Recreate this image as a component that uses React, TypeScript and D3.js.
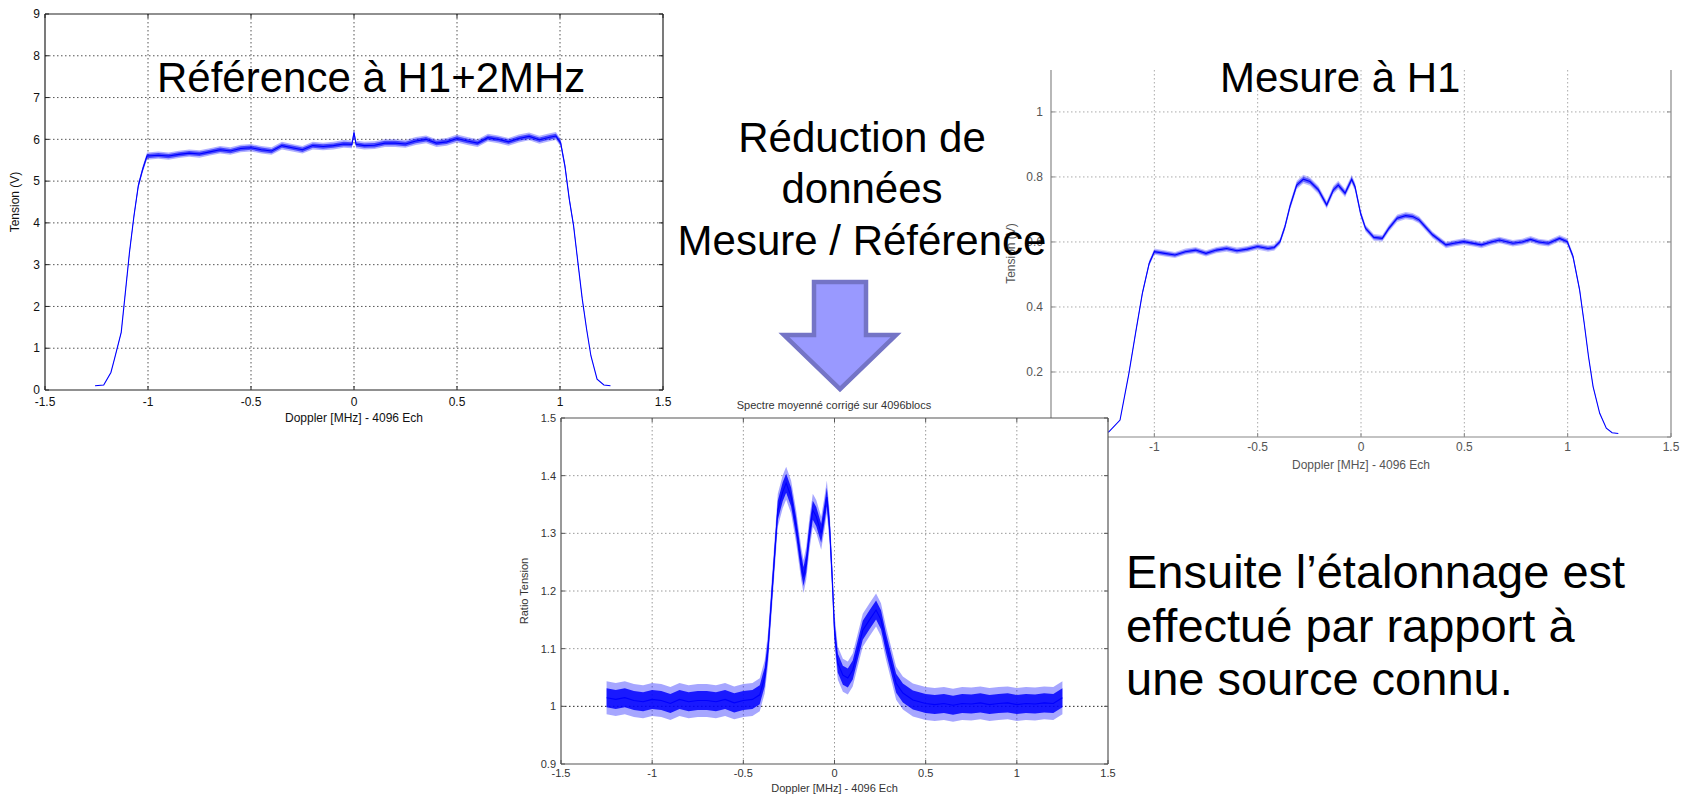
import * as d3 from 'd3';

const W = 1690;
const H = 795;
const FONT = '"Liberation Sans", Arial, sans-serif';

// ---- tick values ----
const dopplerTicks = [-1.5, -1, -0.5, 0, 0.5, 1, 1.5];
const refTicksY = [0, 1, 2, 3, 4, 5, 6, 7, 8, 9];
const mesTicksY = [0, 0.2, 0.4, 0.6, 0.8, 1];
const ratioTicksY = [0.9, 1, 1.1, 1.2, 1.3, 1.4, 1.5];

// ---- Référence à H1+2MHz ----
const refX = [
  -1.257, -1.215, -1.18, -1.163, -1.13, -1.11, -1.09, -1.068, -1.047, -1.026, -1.005,
  -0.95, -0.9, -0.85, -0.8, -0.75, -0.7, -0.65, -0.6, -0.55, -0.5, -0.45, -0.4, -0.35,
  -0.3, -0.25, -0.2, -0.15, -0.1, -0.05, -0.01, 0, 0.01, 0.05, 0.1, 0.15, 0.2, 0.25,
  0.3, 0.35, 0.4, 0.45, 0.5, 0.55, 0.6, 0.65, 0.7, 0.75, 0.8, 0.85, 0.9, 0.95, 0.98,
  1.003, 1.024, 1.045, 1.066, 1.087, 1.108, 1.129, 1.15, 1.18, 1.213, 1.245,
];
const refY = [
  0.1, 0.12, 0.42, 0.74, 1.38, 2.33, 3.29, 4.17, 4.89, 5.28, 5.6,
  5.62, 5.6, 5.64, 5.67, 5.65, 5.7, 5.75, 5.72, 5.78, 5.8, 5.75, 5.72, 5.85,
  5.8, 5.75, 5.85, 5.83, 5.85, 5.89, 5.88, 6.16, 5.88, 5.85, 5.86, 5.91, 5.91, 5.89,
  5.96, 6.0, 5.91, 5.94, 6.02, 5.96, 5.91, 6.04, 6.0, 5.94, 6.02, 6.07, 5.99, 6.05, 6.08,
  5.92, 5.36, 4.57, 3.93, 3.05, 2.18, 1.46, 0.82, 0.26, 0.12, 0.1,
];
const REF_NOISE_FRAC = 0.012;

// ---- Mesure à H1 ----
const mesX = [
  -1.25, -1.22, -1.166, -1.123, -1.091, -1.058, -1.025, -1.0, -0.95, -0.9, -0.85, -0.8,
  -0.75, -0.7, -0.65, -0.6, -0.55, -0.5, -0.45, -0.42, -0.392, -0.368, -0.344, -0.311,
  -0.279, -0.247, -0.206, -0.166, -0.134, -0.11, -0.077, -0.045, -0.029, -0.002, 0.022,
  0.062, 0.103, 0.135, 0.175, 0.216, 0.25, 0.281, 0.346, 0.411, 0.45, 0.497, 0.55, 0.583,
  0.63, 0.67, 0.735, 0.78, 0.821, 0.86, 0.907, 0.961, 0.998, 1.026, 1.058, 1.08, 1.101,
  1.123, 1.155, 1.187, 1.215, 1.245,
];
const mesY = [
  0.01, 0.016, 0.052, 0.196, 0.319, 0.442, 0.534, 0.57, 0.565, 0.56, 0.57, 0.575,
  0.565, 0.575, 0.58, 0.573, 0.578, 0.586, 0.58, 0.583, 0.601, 0.647, 0.709, 0.775,
  0.793, 0.786, 0.76, 0.714, 0.76, 0.775, 0.75, 0.793, 0.77, 0.688, 0.642,
  0.614, 0.611, 0.642, 0.673, 0.681, 0.678, 0.668, 0.622, 0.591, 0.596, 0.601, 0.595, 0.591,
  0.6, 0.606, 0.596, 0.6, 0.608, 0.6, 0.596, 0.611, 0.601, 0.555, 0.452, 0.35, 0.247,
  0.155, 0.073, 0.027, 0.013, 0.011,
];
const MES_NOISE_FRAC = 0.013;

// ---- Spectre moyenné corrigé (ratio) ----
const ratioX = [
  -1.25, -1.2, -1.15, -1.1, -1.05, -1.0, -0.95, -0.9, -0.85, -0.8, -0.75, -0.7, -0.65,
  -0.6, -0.55, -0.5, -0.45, -0.41, -0.383, -0.365, -0.347, -0.329, -0.311, -0.284, -0.265,
  -0.238, -0.21, -0.183, -0.17, -0.155, -0.137, -0.119, -0.1, -0.073, -0.055, -0.042,
  -0.027, -0.012, 0.0, 0.018, 0.046, 0.073, 0.1, 0.128, 0.155, 0.192, 0.228, 0.255, 0.283,
  0.31, 0.338, 0.375, 0.43, 0.5, 0.55, 0.6, 0.65, 0.7, 0.75, 0.8, 0.85, 0.9, 0.95, 1.0,
  1.05, 1.1, 1.15, 1.2, 1.25,
];
const ratioY = [
  1.015, 1.012, 1.015, 1.01, 1.008, 1.012, 1.01, 1.005, 1.012, 1.008, 1.01, 1.01, 1.008,
  1.012, 1.006, 1.01, 1.012, 1.02, 1.051, 1.098, 1.179, 1.26, 1.34, 1.372, 1.387,
  1.363, 1.311, 1.248, 1.225, 1.248, 1.3, 1.34, 1.329, 1.3, 1.335, 1.363,
  1.311, 1.219, 1.132, 1.075, 1.054, 1.049, 1.063, 1.098, 1.132, 1.15, 1.167, 1.15, 1.109,
  1.075, 1.04, 1.023, 1.011, 1.005, 1.003, 1.005, 1.002, 1.005, 1.004, 1.006, 1.003, 1.005,
  1.006, 1.003, 1.005, 1.004, 1.006, 1.005, 1.015,
];
const RATIO_NOISE = 0.022;

type Pt = [number, number];

interface PanelProps {
  left: number; right: number; top: number; bottom: number;
  yDomain: [number, number];
  yTicks: number[];
  xs: number[]; ys: number[];
  spread: (v: number) => number;
  axisColor: string; gridColor: string; textColor: string;
  xLabel: string; yLabel: string;
  tickDy: number; labelDy: number; yTickDx: number; yLabelDx: number;
  fontSize: number;
  showTop?: boolean;
  background?: boolean;
  strongY?: number;
  outerOpacity: number;
  innerOpacity: number;
}

function Panel(p: PanelProps) {
  const x = d3.scaleLinear().domain([-1.5, 1.5]).range([p.left, p.right]);
  const y = d3.scaleLinear().domain(p.yDomain).range([p.bottom, p.top]);
  const pts: Pt[] = p.xs.map((v, i) => [v, p.ys[i]]);
  const line = d3.line<Pt>().x(d => x(d[0])).y(d => y(d[1]));
  // noise band around the mean trace, k = fraction of the read half-width
  const band = (k: number) => d3.area<Pt>()
    .x(d => x(d[0]))
    .y0(d => y(d[1] - k * p.spread(d[1])))
    .y1(d => y(d[1] + k * p.spread(d[1])));
  const [x0, x1] = x.domain();
  const [y0, y1] = y.domain();
  const inX = dopplerTicks.filter(t => t > x0 && t < x1);
  const inY = p.yTicks.filter(t => t > y0 && t <= y1 && y(t) > p.top + 1);
  const tick = 4;

  return (
    <g fontFamily={FONT}>
      {p.background && (
        <rect x={p.left} y={p.top} width={p.right - p.left} height={p.bottom - p.top} fill="#fff" />
      )}
      {inX.map(t => (
        <line key={'gx' + t} x1={x(t)} x2={x(t)} y1={p.top} y2={p.bottom}
          stroke={p.gridColor} strokeWidth={1} strokeDasharray="1.5,2.5" />
      ))}
      {inY.map(t => (
        <line key={'gy' + t} x1={p.left} x2={p.right} y1={y(t)} y2={y(t)}
          stroke={t === p.strongY ? '#222' : p.gridColor} strokeWidth={1} strokeDasharray="1.5,2.5" />
      ))}
      <path d={band(1.3)(pts) || ''} fill="#0000ff" fillOpacity={p.outerOpacity} />
      <path d={band(0.75)(pts) || ''} fill="#0000ff" fillOpacity={p.innerOpacity} />
      <path d={line(pts) || ''} fill="none" stroke="#0000ff" strokeWidth={1.1} />
      {/* axes box */}
      <line x1={p.left} x2={p.right} y1={p.bottom} y2={p.bottom} stroke={p.axisColor} strokeWidth={1.2} />
      <line x1={p.left} x2={p.left} y1={p.top} y2={p.bottom} stroke={p.axisColor} strokeWidth={1.2} />
      <line x1={p.right} x2={p.right} y1={p.top} y2={p.bottom} stroke={p.axisColor} strokeWidth={1.2} />
      {p.showTop && (
        <line x1={p.left} x2={p.right} y1={p.top} y2={p.top} stroke={p.axisColor} strokeWidth={1.2} />
      )}
      {dopplerTicks.map(t => (
        <g key={'tx' + t}>
          <line x1={x(t)} x2={x(t)} y1={p.bottom} y2={p.bottom - tick} stroke={p.axisColor} />
          {p.showTop && <line x1={x(t)} x2={x(t)} y1={p.top} y2={p.top + tick} stroke={p.axisColor} />}
          <text x={x(t)} y={p.bottom + p.tickDy} textAnchor="middle" fontSize={p.fontSize} fill={p.textColor}>
            {String(t)}
          </text>
        </g>
      ))}
      {p.yTicks.filter(t => y(t) >= p.top - 0.5).map(t => (
        <g key={'ty' + t}>
          <line x1={p.left} x2={p.left + tick} y1={y(t)} y2={y(t)} stroke={p.axisColor} />
          <line x1={p.right} x2={p.right - tick} y1={y(t)} y2={y(t)} stroke={p.axisColor} />
          <text x={p.left - p.yTickDx} y={y(t)} dy="0.35em" textAnchor="end" fontSize={p.fontSize} fill={p.textColor}>
            {String(t)}
          </text>
        </g>
      ))}
      <text x={(p.left + p.right) / 2} y={p.bottom + p.labelDy} textAnchor="middle"
        fontSize={p.fontSize} fill={p.textColor}>{p.xLabel}</text>
      <text transform={`translate(${p.left - p.yLabelDx},${(p.top + p.bottom) / 2}) rotate(-90)`}
        textAnchor="middle" fontSize={p.fontSize} fill={p.textColor}>{p.yLabel}</text>
    </g>
  );
}

export default function App() {
  const arrow = d3.path();
  arrow.moveTo(814, 282);
  arrow.lineTo(866, 282);
  arrow.lineTo(866, 335);
  arrow.lineTo(896, 335);
  arrow.lineTo(840, 389);
  arrow.lineTo(784, 335);
  arrow.lineTo(814, 335);
  arrow.closePath();

  return (
    <svg width={W} height={H} viewBox={`0 0 ${W} ${H}`}
      style={{ position: 'absolute', left: 0, top: 0, background: '#fff', display: 'block' }}>
      <rect width={W} height={H} fill="#fff" />

      {/* Référence à H1+2MHz */}
      <Panel left={45} right={663} top={14} bottom={390} yDomain={[0, 9]} yTicks={refTicksY}
        xs={refX} ys={refY} spread={v => v * REF_NOISE_FRAC}
        axisColor="#222" gridColor="#555" textColor="#111"
        xLabel="Doppler [MHz] - 4096 Ech" yLabel="Tension (V)"
        tickDy={16} labelDy={32} yTickDx={5} yLabelDx={26} fontSize={12}
        showTop outerOpacity={0.3} innerOpacity={0.6} />

      {/* Mesure à H1 */}
      <Panel left={1051} right={1671} top={70} bottom={437} yDomain={[0, 1.129]} yTicks={mesTicksY}
        xs={mesX} ys={mesY} spread={v => v * MES_NOISE_FRAC}
        axisColor="#888" gridColor="#aaa" textColor="#555"
        xLabel="Doppler [MHz] - 4096 Ech" yLabel="Tension (V)"
        tickDy={14} labelDy={32} yTickDx={8} yLabelDx={36} fontSize={12}
        outerOpacity={0.25} innerOpacity={0.5} />

      <g fontFamily={FONT} fill="#000">
        <text x={157} y={92} fontSize={42}>Référence à H1+2MHz</text>
        <text x={1220} y={92} fontSize={42}>Mesure à H1</text>
        <text x={862} y={152} fontSize={42} textAnchor="middle">Réduction de</text>
        <text x={862} y={203} fontSize={42} textAnchor="middle">données</text>
        <text x={862} y={255} fontSize={42} textAnchor="middle">Mesure / Référence</text>
      </g>

      <path d={arrow.toString()} fill="#9999ff" stroke="#7474c6" strokeWidth={4.5} strokeLinejoin="miter" />

      {/* Spectre moyenné corrigé */}
      <text x={834} y={409} textAnchor="middle" fontFamily={FONT} fontSize={11} fill="#333">
        Spectre moyenné corrigé sur 4096blocs
      </text>
      <Panel left={561} right={1108} top={418} bottom={764} yDomain={[0.9, 1.5]} yTicks={ratioTicksY}
        xs={ratioX} ys={ratioY} spread={() => RATIO_NOISE}
        axisColor="#555" gridColor="#999" textColor="#333"
        xLabel="Doppler [MHz] - 4096 Ech" yLabel="Ratio Tension"
        tickDy={13} labelDy={28} yTickDx={5} yLabelDx={33} fontSize={11}
        showTop background strongY={1} outerOpacity={0.35} innerOpacity={0.85} />

      <g fontFamily={FONT} fontSize={47} fill="#000">
        <text x={1126} y={588}>Ensuite l’étalonnage est</text>
        <text x={1126} y={642}>effectué par rapport à</text>
        <text x={1126} y={695}>une source connu.</text>
      </g>
    </svg>
  );
}
